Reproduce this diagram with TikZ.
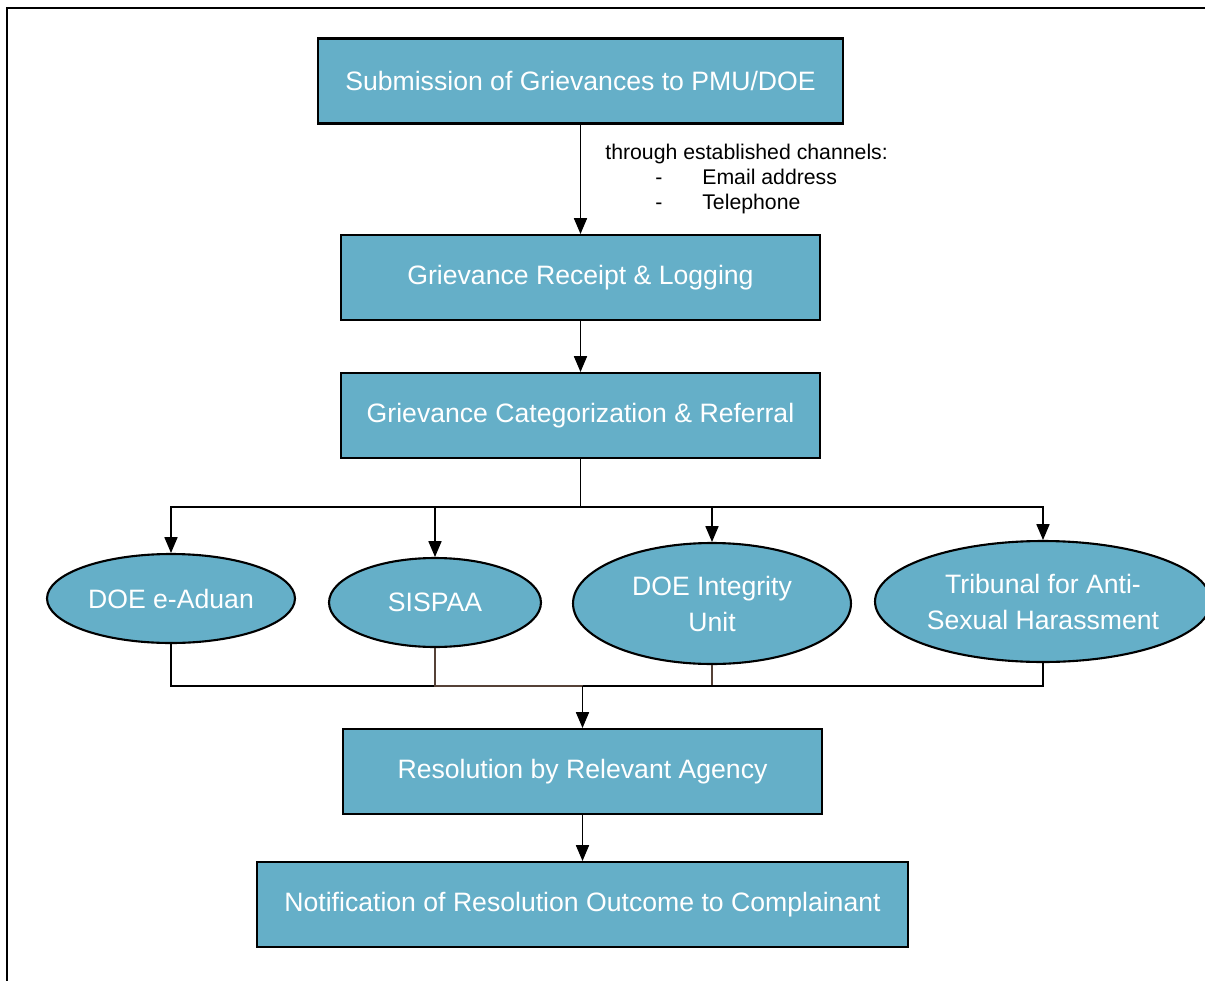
\documentclass[tikz,border=0pt]{standalone}
\usepackage{fontspec}
\setmainfont{Liberation Sans}
\usetikzlibrary{shapes,shapes.geometric}
\usetikzlibrary{arrows.meta}
\definecolor{mauhop}{RGB}{101,175,200}
\definecolor{maunau}{RGB}{85,65,55}

\begin{document}
\begin{tikzpicture}[x=0.02cm,y=-0.02cm,
	hop/.style={draw,line width=1.2pt,fill=mauhop,text=white,font=\fontsize{15.15}{19}\selectfont,minimum height=1.7cm,inner sep=0pt},
	elip/.style={ellipse,draw,line width=1.2pt,fill=mauhop,text=white,font=\fontsize{15.15}{20.5}\selectfont,align=center,inner sep=0pt},
	muiten/.style={-{Triangle[width=7.5pt,length=9pt]},line width=0.6pt}]
			\useasboundingbox (0,0) rectangle (1205,981);
			\draw[line width=1.2pt] (7,981) -- (7,8) -- (1205,8);
			% cac hop
			\node[hop,minimum width=10.5cm] (nop) at (580.5,81) {Submission of Grievances to PMU/DOE};
			\node[hop,minimum width=9.58cm] (nhan) at (580.5,277.5) {Grievance Receipt \& Logging};
			\node[hop,minimum width=9.58cm] (phanloai) at (580.5,415.5) {Grievance Categorization \& Referral};
			\node[elip,minimum width=4.96cm,minimum height=1.78cm] (aduan) at (171,598.5) {DOE e-Aduan};
			\node[elip,minimum width=4.24cm,minimum height=1.78cm] (sispaa) at (435,602.5) {SISPAA};
			\node[elip,minimum width=5.56cm,minimum height=2.42cm] (integrity) at (712,603.5) {DOE Integrity\\Unit};
			\node[elip,minimum width=6.72cm,minimum height=2.42cm] (tribunal) at (1043,601.5) {Tribunal for Anti-\\Sexual Harassment};
			\node[hop,minimum width=9.58cm] (giaiquyet) at (582.5,771.5) {Resolution by Relevant Agency};
			\node[hop,minimum width=13.02cm] (thongbao) at (582.5,904.5) {Notification of Resolution Outcome to Complainant};
			\node[anchor=north west,align=left,inner sep=0pt,font=\fontsize{12.1}{14.2}\selectfont] (kenh) at (605,144)
				{through established channels:\\
				\hspace*{1cm}\makebox[0.94cm][l]{-}Email address\\
				\hspace*{1cm}\makebox[0.94cm][l]{-}Telephone};
			% cac duong noi
			\coordinate (tach) at (580.5,507);
			\coordinate (gop) at (582.5,686);
			\draw[muiten] (nop) -- (nhan);
			\draw[muiten] (nhan) -- (phanloai);
			\draw[line width=0.6pt] (phanloai) -- (tach);
			\draw[muiten] (tach) -| (aduan);
			\draw[muiten] (tach) -| (sispaa);
			\draw[muiten] (tach) -| (integrity);
			\draw[muiten] (tach) -| (tribunal);
			\draw[line width=0.6pt] (aduan) |- (gop);
			\draw[line width=0.6pt,maunau] (sispaa) |- (gop);
			\draw[line width=0.6pt,maunau] (integrity) |- (gop);
			\draw[line width=0.6pt] (tribunal) |- (gop);
			\draw[muiten] (gop) -- (giaiquyet);
			\draw[muiten] (giaiquyet) -- (thongbao);
		\end{tikzpicture}
\end{document}
